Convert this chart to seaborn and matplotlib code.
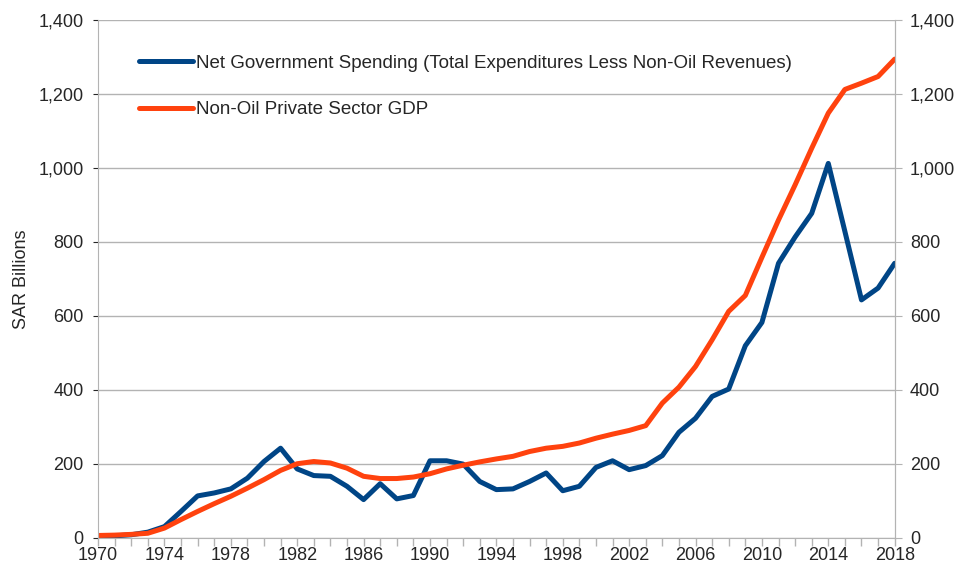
import matplotlib
matplotlib.use("Agg")
import matplotlib.pyplot as plt
import matplotlib.ticker as mticker
import pandas as pd
import seaborn as sns

years = list(range(1970, 2019))
year_ticks = list(range(1970, 2019, 4))

net_gov_spending = [
    5, 5, 8, 15, 30, 71, 113, 121, 132, 161,
    206, 242, 186, 168, 166, 139, 103, 146, 105, 114,
    208, 208, 199, 152, 130, 132, 152, 175, 127, 139,
    190, 208, 184, 195, 222, 285, 323, 382, 402, 519,
    582, 742, 813, 877, 1012, 828, 643, 675, 742,
]

non_oil_private_gdp = [
    6, 7, 9, 12, 26, 49, 71, 92, 112, 134,
    157, 182, 200, 206, 202, 188, 166, 160, 160, 164,
    173, 186, 196, 205, 213, 220, 233, 242, 247, 256,
    269, 280, 290, 303, 364, 407, 463, 535, 612, 655,
    758, 859, 954, 1053, 1148, 1212, 1229, 1247, 1294,
]

series_names = [
    "Net Government Spending (Total Expenditures Less Non-Oil Revenues)",
    "Non-Oil Private Sector GDP",
]
colors = ["#004586", "#ff420e"]

df = pd.DataFrame({
    "Year": years * 2,
    "Value": net_gov_spending + non_oil_private_gdp,
    "Series": [series_names[0]] * len(years) + [series_names[1]] * len(years),
})

sns.set_style("white")
plt.rcParams["font.family"] = ["Liberation Sans", "DejaVu Sans"]

fig = plt.figure(figsize=(9.61, 5.69), dpi=100)
ax = fig.add_axes([0.102, 0.055, 0.829, 0.91])

sns.lineplot(
    data=df, x="Year", y="Value", hue="Series",
    palette=dict(zip(series_names, colors)),
    linewidth=3.6, ax=ax, legend=True,
)

grid_col = "#b3b3b3"
fmt = mticker.FuncFormatter(lambda v, p: f"{int(v):,}")
ax.set_xlim(1970, 2018)
ax.set_ylim(0, 1400)
ax.yaxis.set_major_locator(mticker.MultipleLocator(200))
ax.yaxis.set_major_formatter(fmt)
ax.xaxis.set_major_locator(mticker.FixedLocator(year_ticks))
ax.xaxis.set_minor_locator(mticker.FixedLocator(years))
ax.grid(axis="y", color=grid_col, linewidth=1.0)
ax.set_axisbelow(True)
ax.set_xlabel("")
ax.set_ylabel("SAR Billions", fontsize=13, labelpad=6)

for side in ["left", "right", "bottom"]:
    ax.spines[side].set_color(grid_col)
ax.spines["top"].set_visible(False)

ax.tick_params(axis="x", which="both", bottom=True, direction="out",
               color=grid_col, length=6, width=1, labelsize=13, pad=1)
ax.tick_params(axis="y", left=False, labelsize=13, pad=7)

ax2 = ax.twinx()
ax2.set_ylim(ax.get_ylim())
ax2.yaxis.set_major_locator(mticker.MultipleLocator(200))
ax2.yaxis.set_major_formatter(fmt)
ax2.tick_params(axis="y", right=True, length=5, color=grid_col,
                labelsize=13, pad=6)
for s in ax2.spines.values():
    s.set_visible(False)
ax2.spines["right"].set_visible(True)
ax2.spines["right"].set_color(grid_col)

leg = ax.legend(
    loc="upper left", bbox_to_anchor=(0.03, 0.965), frameon=False,
    fontsize=13.5, handlelength=2.9, handletextpad=0.15, labelspacing=1.56,
)
for line in leg.get_lines():
    line.set_linewidth(3.6)

fig.savefig("out.png", dpi=100)
